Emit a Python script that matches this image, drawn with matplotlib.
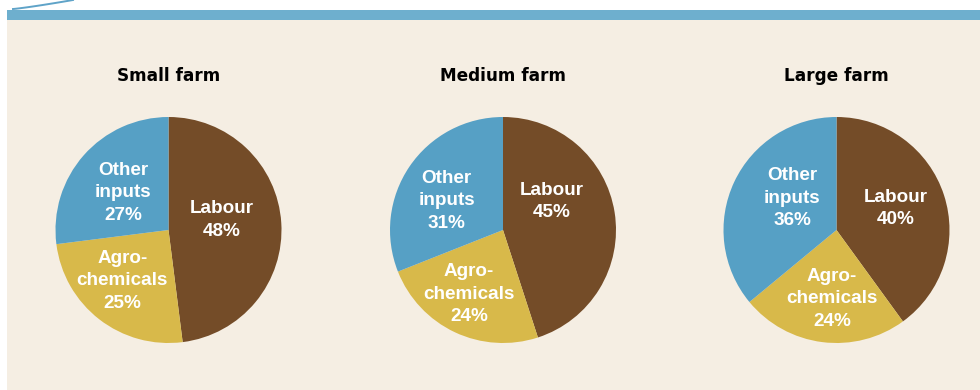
import numpy as np
import matplotlib
matplotlib.use("Agg")
import matplotlib.pyplot as plt
from matplotlib.patches import Rectangle
from matplotlib.lines import Line2D

# ---- data ----
farms = ["Small farm", "Medium farm", "Large farm"]
categories = ["Labour", "Agro-chemicals", "Other inputs"]
labour = [48, 45, 40]
agrochemicals = [25, 24, 24]
other_inputs = [27, 31, 36]
label_text = ["Labour", "Agro-\nchemicals", "Other\ninputs"]

# ---- style / layout ----
colors = ["#744C28", "#D8B94A", "#56A0C5"]
bg = "#F5EEE3"
bar_col = "#6EAFCE"
W, H = 980, 390
centers_px = [(168.5, 230), (503, 230), (836.5, 230)]
R = 113
# label offsets in radius units (Labour, Agro, Other) per farm
label_pos = [
    [(0.47, 0.09), (-0.41, -0.45), (-0.40, 0.33)],
    [(0.43, 0.25), (-0.30, -0.57), (-0.50, 0.26)],
    [(0.52, 0.19), (-0.04, -0.61), (-0.39, 0.28)],
]

fig = plt.figure(figsize=(W / 100, H / 100), dpi=100)
fig.patch.set_facecolor("white")

# background panel and top bar
fig.patches.append(Rectangle((7 / W, 0), 1 - 7 / W, (H - 20) / H,
                             transform=fig.transFigure, facecolor=bg,
                             edgecolor="none", zorder=-5))
fig.patches.append(Rectangle((7 / W, (H - 20) / H), 1 - 7 / W, 10 / H,
                             transform=fig.transFigure, facecolor=bar_col,
                             edgecolor="none", zorder=-5))
# decorative curve top-left
t = np.linspace(0, 1, 50)
cx = 13 + 60 * t
cy = 9 - 9 * t ** 1.15
fig.lines.append(Line2D(cx / W, 1 - cy / H, transform=fig.transFigure,
                        color="#5FA3C8", lw=1.4, zorder=-4))

for i, farm in enumerate(farms):
    vals = [labour[i], agrochemicals[i], other_inputs[i]]
    xc, yc = centers_px[i]
    ax = fig.add_axes([(xc - R) / W, (H - yc - R) / H, 2 * R / W, 2 * R / H])
    ax.set_zorder(2)
    ax.patch.set_alpha(0)
    ax.pie(vals, colors=colors, startangle=90, counterclock=False, radius=1,
           wedgeprops=dict(linewidth=0))
    ax.set_xlim(-1, 1)
    ax.set_ylim(-1, 1)
    ax.set_aspect("equal")
    ax.axis("off")
    for j in range(3):
        dx, dy = label_pos[i][j]
        ax.text(dx, dy, f"{label_text[j]}\n{vals[j]}%", ha="center", va="center",
                color="white", fontsize=13.6, fontweight="bold",
                family="Liberation Sans", linespacing=1.42)
    fig.text(xc / W, 1 - 76 / H, farm, ha="center", va="center",
             fontsize=12.2, fontweight="bold", family="DejaVu Sans", color="black")

fig.savefig("out.png", dpi=100, facecolor=fig.get_facecolor())
